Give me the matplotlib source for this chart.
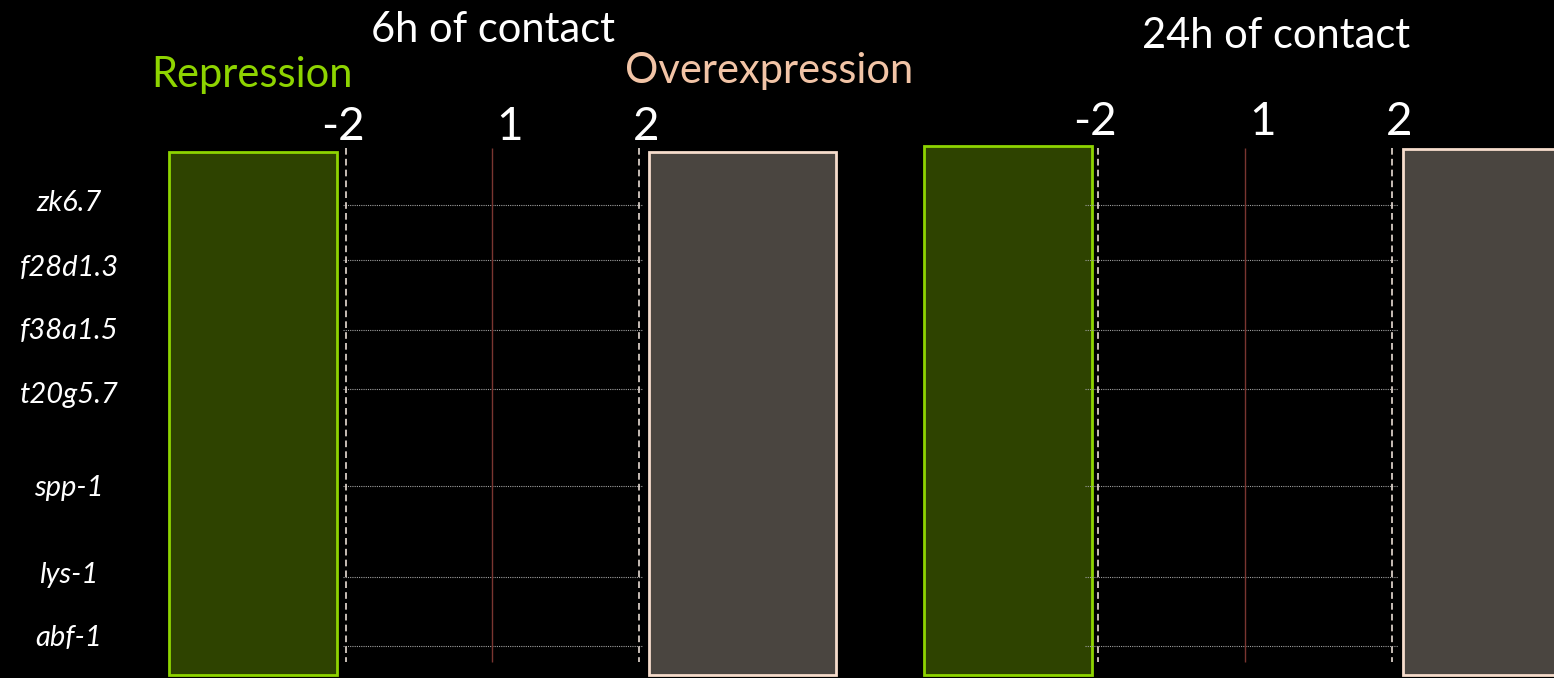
import matplotlib
matplotlib.use("Agg")
import matplotlib.pyplot as plt
from matplotlib.patches import Rectangle

# ---- data ----
genes = ["zk6.7", "f28d1.3", "f38a1.5", "t20g5.7", "spp-1", "lys-1", "abf-1"]
panel_titles = ["6h of contact", "24h of contact"]
tick_vals = [-1, 0, 1]            # log2 fold change positions
tick_labels = ["-2", "1", "2"]    # fold change labels

# ---- layout ----
W, H = 1554, 678
row_pos = [205, 260, 330, 389, 486, 577, 646]     # gene row gridlines (pixel-like units)
label_pos = [203, 268, 331, 395, 488, 575, 638]   # gene label centres
FONT = "Lato"
WEIGHT = "normal"
BG = "black"
GREEN_FILL, GREEN_EDGE = "#2e4300", "#8ed400"
GRAY_FILL, GRAY_EDGE = "#4a4540", "#f6dccc"
PEACH = "#f2c4a6"

fig = plt.figure(figsize=(W / 100, H / 100), dpi=100, facecolor=BG)

panels = [
    dict(x0=150, x1=870, center=492, unit=146.5, green=(-2.205, -1.058), gray=(1.072, 2.348),
         grid=(-1.02, 1.03), vtop=148, title_x=493, title_y=30, ticklab_y=140),
    dict(x0=900, x1=1554, center=1245, unit=147.0, green=(-2.184, -1.041), gray=(1.075, 2.6),
         grid=(-1.09, 1.04), vtop=148, title_x=1276, title_y=36, ticklab_y=135),
]

axes = []
for i, p in enumerate(panels):
    ax = fig.add_axes([p["x0"] / W, 0, (p["x1"] - p["x0"]) / W, 1])
    ax.set_facecolor(BG)
    ax.set_xlim((p["x0"] - p["center"]) / p["unit"], (p["x1"] - p["center"]) / p["unit"])
    ax.set_ylim(H, 0)
    ax.axis("off")
    axes.append(ax)

    # background boxes
    gy0 = 152 if i == 0 else 146
    ax.add_patch(Rectangle((p["green"][0], gy0), p["green"][1] - p["green"][0], 675 - gy0,
                           facecolor=GREEN_FILL, edgecolor=GREEN_EDGE, lw=2.0, zorder=1))
    oy0 = 152 if i == 0 else 149
    ax.add_patch(Rectangle((p["gray"][0], oy0), p["gray"][1] - p["gray"][0], 675 - oy0,
                           facecolor=GRAY_FILL, edgecolor=GRAY_EDGE, lw=2.0, zorder=1))

    # row gridlines
    ax.hlines(row_pos, p["grid"][0], p["grid"][1], colors="#a0a0a0", linestyles=(0, (1, 1)),
              lw=0.8, zorder=2)

    # vertical reference lines
    ax.vlines([tick_vals[0], tick_vals[2]], p["vtop"], 662, colors="#e9dcd4",
              linestyles=(0, (4, 2.5)), lw=1.2, zorder=3)
    ax.vlines([tick_vals[1]], p["vtop"], 662, colors="#7a3530", lw=1.0, zorder=3)

    # tick labels
    offs = [-0.02, 0.12, 0.05]
    for tv, tl, o in zip(tick_vals, tick_labels, offs):
        ax.text(tv + o, p["ticklab_y"], tl, color="white", fontsize=33, family=FONT,
                weight=WEIGHT, ha="center", va="baseline", zorder=4)

    # panel title
    ax.text((p["title_x"] - p["center"]) / p["unit"], p["title_y"], panel_titles[i],
            color="white", fontsize=30, family=FONT, weight=WEIGHT, ha="center", va="center")

# Repression / Overexpression labels (first panel)
ax0 = axes[0]
p0 = panels[0]
ax0.text((252 - p0["center"]) / p0["unit"], 75, "Repression", color="#8ed400",
         fontsize=30, family=FONT, weight=WEIGHT, ha="center", va="center")
ax0.text((769 - p0["center"]) / p0["unit"], 71, "Overexpression", color=PEACH,
         fontsize=30, family=FONT, weight=WEIGHT, ha="center", va="center")

# gene labels
for g, y in zip(genes, label_pos):
    fig.text(69 / W, 1 - y / H, g, color="white", fontsize=21, family=FONT,
             weight=WEIGHT, style="italic", ha="center", va="center")

fig.savefig("out.png", dpi=100, facecolor=BG)
